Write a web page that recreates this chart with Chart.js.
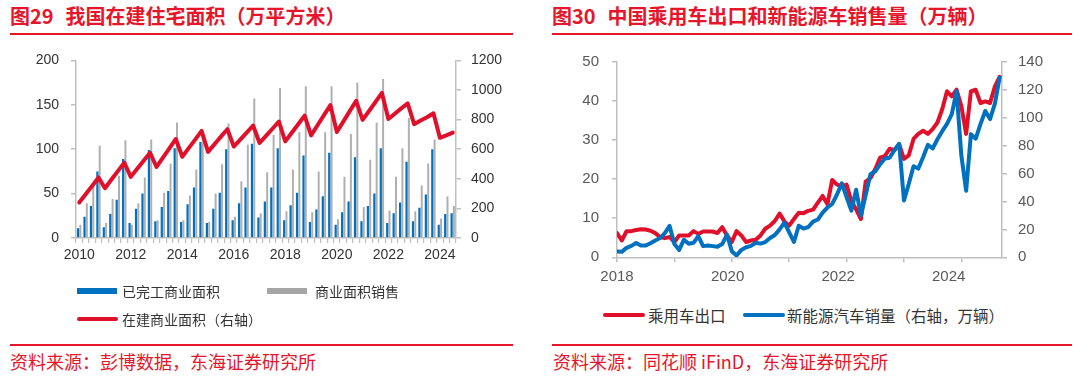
<!DOCTYPE html>
<html><head><meta charset="utf-8">
<script src="https://cdn.jsdelivr.net/npm/chart.js@4.4.1/dist/chart.umd.min.js"></script>
<style>
html,body{margin:0;padding:0;background:#fff;}
body{width:1080px;height:378px;position:relative;overflow:hidden;font-family:"Noto Sans CJK SC","Noto Sans",sans-serif;}
.title{position:absolute;top:3px;font-size:20px;font-weight:bold;color:#E5162B;white-space:nowrap;line-height:26px;}
.title span{margin-right:12px;}
.rule{position:absolute;height:2px;background:#E5162B;}
.src{position:absolute;top:349px;font-size:18px;color:#E5162B;white-space:nowrap;line-height:24px;}
.cv{position:absolute;top:40px;}
.lg{position:absolute;color:#333;white-space:nowrap;line-height:20px;}
.sw{position:absolute;}
</style></head>
<body>
<div class="title" style="left:10px"><span>图29</span>我国在建住宅面积（万平方米）</div>
<div class="title" style="left:552px"><span>图30</span>中国乘用车出口和新能源车销售量（万辆）</div>
<div class="rule" style="left:10px;top:33px;width:503px"></div>
<div class="rule" style="left:552px;top:33px;width:520px"></div>
<canvas id="c1" class="cv" style="left:0" width="540" height="250"></canvas>
<canvas id="c2" class="cv" style="left:540px" width="540" height="250"></canvas>

<div class="sw" style="left:77px;top:288px;width:40px;height:6px;background:#0070C0"></div>
<div class="lg" style="left:122px;top:281px;font-size:14px">已完工商业面积</div>
<div class="sw" style="left:267px;top:288px;width:40px;height:6px;background:#A6A6A6"></div>
<div class="lg" style="left:315px;top:281px;font-size:14px">商业面积销售</div>
<div class="sw" style="left:77px;top:317px;width:41px;height:4px;border-radius:2px;background:#E0102B"></div>
<div class="lg" style="left:122px;top:309px;font-size:14px">在建商业面积（右轴）</div>

<div class="sw" style="left:603px;top:313px;width:42px;height:4px;border-radius:2px;background:#E0102B"></div>
<div class="lg" style="left:648px;top:305px;font-size:15.5px">乘用车出口</div>
<div class="sw" style="left:743px;top:313px;width:42px;height:4px;border-radius:2px;background:#0070C0"></div>
<div class="lg" style="left:787px;top:305px;font-size:15.5px">新能源汽车销量（右轴，万辆）</div>

<div class="rule" style="left:10px;top:344px;width:503px"></div>
<div class="rule" style="left:552px;top:344px;width:520px"></div>
<div class="src" style="left:10px">资料来源：彭博数据，东海证券研究所</div>
<div class="src" style="left:553px">资料来源：同花顺 iFinD，东海证券研究所</div>

<script>
// ---------- Figure 29 data (quarterly) ----------
const quarters = [
 '2010Q1','2010Q2','2010Q3','2010Q4','2011Q1','2011Q2','2011Q3','2011Q4',
 '2012Q1','2012Q2','2012Q3','2012Q4','2013Q1','2013Q2','2013Q3','2013Q4',
 '2014Q1','2014Q2','2014Q3','2014Q4','2015Q1','2015Q2','2015Q3','2015Q4',
 '2016Q1','2016Q2','2016Q3','2016Q4','2017Q1','2017Q2','2017Q3','2017Q4',
 '2018Q1','2018Q2','2018Q3','2018Q4','2019Q1','2019Q2','2019Q3','2019Q4',
 '2020Q1','2020Q2','2020Q3','2020Q4','2021Q1','2021Q2','2021Q3','2021Q4',
 '2022Q1','2022Q2','2022Q3','2022Q4','2023Q1','2023Q2','2023Q3','2023Q4',
 '2024Q1','2024Q2','2024Q3'];
const leftYearLabels = ['2010','2012','2014','2016','2018','2020','2022','2024'];
const completedArea = [11,24,36,75, 12,27,43,89, 17,33,50,99, 19,35,53,101, 18,38,57,108,
  17,33,51,100, 20,39,57,106, 23,41,57,101, 20,37,51,93, 18,32,47,96, 15,29,41,91,
  19,36,50,101, 17,28,40,86, 19,34,49,100, 15,27,28];
const salesArea = [15,39,60,104, 17,44,70,110, 15,39,68,111, 20,51,84,130, 20,48,77,120,
  18,50,83,129, 24,64,105,157, 28,74,116,169, 30,77,119,171, 29,75,119,171, 21,69,117,175,
  35,88,130,179, 31,69,101,135, 30,59,84,111, 22,47,36];
const constructionArea = [240,296,352,409, 336,395,452,509, 413,468,522,576, 480,543,606,669,
  549,607,665,724, 582,634,685,735, 618,665,712,760, 642,690,738,787, 653,711,769,827,
  693,762,830,898, 716,786,857,927, 798,858,919,980, 804,840,876,909, 769,794,816,843, 677,694,712];

// ---------- Figure 30 data (monthly) ----------
const months = [
 '2018-01','2018-02','2018-03','2018-04','2018-05','2018-06','2018-07','2018-08','2018-09','2018-10','2018-11','2018-12',
 '2019-01','2019-02','2019-03','2019-04','2019-05','2019-06','2019-07','2019-08','2019-09','2019-10','2019-11','2019-12',
 '2020-01','2020-02','2020-03','2020-04','2020-05','2020-06','2020-07','2020-08','2020-09','2020-10','2020-11','2020-12',
 '2021-01','2021-02','2021-03','2021-04','2021-05','2021-06','2021-07','2021-08','2021-09','2021-10','2021-11','2021-12',
 '2022-01','2022-02','2022-03','2022-04','2022-05','2022-06','2022-07','2022-08','2022-09','2022-10','2022-11','2022-12',
 '2023-01','2023-02','2023-03','2023-04','2023-05','2023-06','2023-07','2023-08','2023-09','2023-10','2023-11','2023-12',
 '2024-01','2024-02','2024-03','2024-04','2024-05','2024-06','2024-07','2024-08','2024-09'];
const yearStartMonths = ['2018-01','2019-01','2020-01','2021-01','2022-01','2023-01','2024-01'];
const rightYearLabels = ['2018','2020','2022','2024'];
const pvExport = [
 6.2,4.3,6.7,6.7,7.0,7.2,7.1,6.8,6.2,5.2,4.9,5.2,
 3.9,5.6,5.6,5.6,6.7,6.0,6.6,6.6,6.6,6.2,7.7,5.6,
 3.9,6.7,5.6,3.9,4.3,4.5,5.6,7.3,8.1,9.3,11.2,9.2,
 8.1,9.8,11.4,11.3,11.9,12.2,14.0,15.7,13.6,19.8,18.6,18.2,
 18.6,14.4,12.3,9.8,19.4,20.3,22.6,25.5,25.9,27.8,27.4,28.9,
 25.2,26.1,30.3,31.6,32.4,31.6,32.8,34.5,37.9,42.5,41.2,42.9,
 38.7,31.6,42.5,42.9,39.5,39.9,39.5,43.7,46.2];
const nevSales = [
 4.1,3.9,6.8,8.2,10.2,8.4,8.4,10.1,12.1,13.8,17.3,22.5,
 9.6,5.3,12.6,9.7,10.4,15.2,8.0,8.5,8.0,7.5,9.5,16.3,
 4.4,1.3,5.3,7.2,8.2,10.4,9.8,10.9,13.8,16.0,20.0,24.8,
 17.9,11.0,22.6,20.6,21.7,25.6,27.1,32.1,35.7,38.3,45.0,53.1,
 43.1,33.4,48.4,29.9,44.7,59.6,61.7,66.6,70.8,71.4,76.8,81.4,
 40.8,52.5,65.3,63.6,71.7,80.6,78.0,84.6,90.4,95.6,102.6,119.1,
 72.9,47.7,88.3,85.0,95.5,104.9,99.1,110.0,128.7];

const RED = '#E0102B', BLUE = '#0070C0', GRAY = '#AFAFAF', AXIS = '#BFBFBF';
const TICKFONT = "'Liberation Sans', Arial, sans-serif";

function yAxis(pos, min, max, step, width, pad, size, color) {
  return {
    position: pos, min: min, max: max,
    ticks: { stepSize: step, padding: pad, color: color, font: { family: TICKFONT, size: size },
      callback: v => String(v) },
    grid: { display: true, drawOnChartArea: false, drawTicks: true, tickLength: 5, color: AXIS, lineWidth: 1.5 },
    border: { display: true, color: AXIS, width: 1.5 },
    afterFit: s => { s.width = width; }
  };
}

new Chart(document.getElementById('c1'), {
  type: 'bar',
  data: {
    labels: quarters,
    datasets: [
      { type: 'line', label: '在建商业面积（右轴）', data: constructionArea, yAxisID: 'y1',
        borderColor: RED, borderWidth: 4, pointRadius: 0, tension: 0,
        borderJoinStyle: 'round', borderCapStyle: 'round', order: 0 },
      { type: 'bar', label: '已完工商业面积', data: completedArea, yAxisID: 'y',
        backgroundColor: BLUE, categoryPercentage: 0.72, barPercentage: 0.95, order: 1 },
      { type: 'bar', label: '商业面积销售', data: salesArea, yAxisID: 'y',
        backgroundColor: GRAY, categoryPercentage: 0.72, barPercentage: 0.85, order: 2 }
    ]
  },
  options: {
    responsive: false, animation: false,
    layout: { padding: { top: 18, left: 0, right: 0, bottom: 0 } },
    plugins: { legend: { display: false }, tooltip: { enabled: false } },
    scales: {
      x: {
        offset: true,
        grid: { display: true, offset: true, drawOnChartArea: false, drawTicks: true, tickLength: 5, color: AXIS, lineWidth: 1.2 },
        border: { display: true, color: AXIS, width: 1.5 },
        ticks: { autoSkip: false, maxRotation: 0, minRotation: 0, padding: 4, color: '#333',
          font: { family: TICKFONT, size: 14 },
          callback: (v, i) => (i % 8 === 0 ? leftYearLabels[i / 8] : '') },
        afterFit: s => { s.height = 52; }
      },
      y: yAxis('left', 0, 200, 50, 76, 12, 14, '#333'),
      y1: yAxis('right', 0, 1200, 200, 84, 10, 14, '#333')
    }
  }
});

const monthIndex = m => months.indexOf(m);
new Chart(document.getElementById('c2'), {
  type: 'line',
  data: {
    datasets: [
      { label: '新能源汽车销量（右轴，万辆）', data: nevSales.map((v, i) => ({ x: monthIndex(months[i]), y: v })),
        yAxisID: 'y1', borderColor: BLUE, borderWidth: 4, pointRadius: 0, tension: 0,
        borderJoinStyle: 'round', borderCapStyle: 'round', order: 0 },
      { label: '乘用车出口', data: pvExport.map((v, i) => ({ x: monthIndex(months[i]), y: v })),
        yAxisID: 'y', borderColor: RED, borderWidth: 4, pointRadius: 0, tension: 0,
        borderJoinStyle: 'round', borderCapStyle: 'round', order: 1 }
    ]
  },
  options: {
    responsive: false, animation: false,
    layout: { padding: { top: 18.3, left: 0, right: 0, bottom: 0 } },
    plugins: { legend: { display: false }, tooltip: { enabled: false } },
    scales: {
      x: {
        type: 'linear', position: 'bottom', min: 0, max: 80.5, weight: 0,
        afterBuildTicks: s => { s.ticks = yearStartMonths.map(m => ({ value: monthIndex(m) })); },
        ticks: { display: false },
        grid: { display: true, drawOnChartArea: false, drawTicks: true, tickLength: 5, color: AXIS, lineWidth: 1.5 },
        border: { display: true, color: AXIS, width: 1.5 },
        afterFit: s => { s.height = 5; }
      },
      xl: {
        type: 'linear', position: 'bottom', min: 0, max: 83.57, weight: 1,
        afterBuildTicks: s => { s.ticks = rightYearLabels.map(y => ({ value: monthIndex(y + '-01') })); },
        grid: { display: false, drawTicks: false },
        border: { display: false },
        ticks: { autoSkip: false, maxRotation: 0, padding: 6, color: '#595959',
          font: { family: TICKFONT, size: 15 },
          callback: (v, i) => rightYearLabels[i] },
        afterFit: s => { s.height = 27.7; }
      },
      y: yAxis('left', 0, 50, 10, 77, 13, 15, '#595959'),
      y1: yAxis('right', 0, 140, 20, 78, 11, 15, '#595959')
    }
  }
});
</script>
</body></html>
